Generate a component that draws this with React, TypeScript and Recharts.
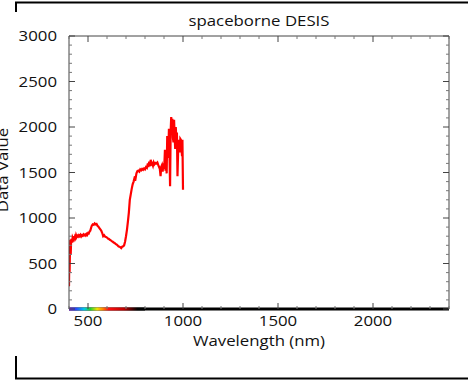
import { LineChart, Line, XAxis, YAxis, ReferenceArea } from "recharts";

// DESIS spectrum
const wavelengths = [
  400, 401, 403, 405, 407, 409, 411, 413, 416, 419, 422, 425, 428, 431, 434, 437, 440, 444, 448, 452,
  456, 460, 464, 468, 472, 476, 480, 484, 488, 492, 496, 500, 504, 508, 512, 516, 520, 525, 530, 535,
  540, 545, 550, 555, 560, 565, 570, 575, 580, 585, 590, 595, 600, 605, 610, 615, 620, 625, 630, 635,
  640, 645, 650, 655, 660, 665, 670, 675, 680, 685, 690, 695, 700, 705, 710, 715, 720, 725, 730, 735,
  740, 745, 750, 755, 760, 765, 770, 775, 780, 785, 790, 795, 800, 805, 810, 815, 818, 822, 826, 830,
  834, 838, 842, 846, 850, 855, 860, 865, 870, 874, 878, 882, 885, 889, 893, 897, 901, 905, 908, 911,
  914, 917, 920, 923, 926, 929, 932, 935, 938, 941, 944, 947, 950, 953, 956, 959, 962, 965, 968, 971,
  974, 977, 980, 983, 986, 989, 992, 995, 997, 1000,
];
const values = [
  250, 460, 400, 620, 760, 600, 740, 770, 730, 785, 770, 800, 775, 795, 780, 810, 790, 805, 795, 810,
  800, 815, 798, 812, 805, 820, 810, 818, 808, 825, 815, 835, 830, 850, 860, 890, 915, 930, 925, 940,
  930, 935, 915, 905, 890, 875, 860, 835, 800, 810, 795, 790, 785, 775, 770, 760, 755, 745, 740, 730,
  725, 715, 710, 700, 690, 685, 680, 670, 685, 690, 700, 740, 800, 870, 960, 1060, 1200, 1260, 1320, 1370,
  1400, 1440, 1430, 1490, 1515, 1520, 1510, 1535, 1525, 1540, 1530, 1545, 1535, 1560, 1550, 1600, 1560, 1620, 1570, 1640,
  1590, 1600, 1575, 1610, 1590, 1605, 1600, 1610, 1580, 1560, 1540, 1460, 1560, 1580, 1510, 1600, 1540, 1750, 1520, 1680,
  1490, 1900, 1660, 1740, 1980, 1700, 1350, 1950, 2110, 2000, 2090, 1880, 1830, 2080, 1900, 1760, 2000, 1850, 1940, 1460,
  1700, 1860, 1800, 1720, 1870, 1860, 1760, 1680, 1860, 1310,
];

const xLabels = [500, 1000, 1500, 2000];
const yLabels = [0, 500, 1000, 1500, 2000, 2500, 3000];
const xTicks = Array.from({ length: 21 }, (_, i) => 400 + i * 100);
const yTicks = Array.from({ length: 31 }, (_, i) => i * 100);

const data = wavelengths.map((wl, i) => ({ wl, value: values[i] }));

const FONT = "'Open Sans', sans-serif";
const FS = 14;
const SX = 1.2;
const INK = "#111";

function makeTick(side: "bottom" | "top" | "left" | "right") {
  return (props: any) => {
    const { x, y, payload } = props;
    const v = payload.value;
    const major = v % 500 === 0;
    const len = major ? 6 : 3;
    let x2 = x, y2 = y;
    if (side === "bottom") y2 = y - len;
    if (side === "top") y2 = y + len;
    if (side === "left") x2 = x + len;
    if (side === "right") x2 = x - len;
    let label = null;
    if (side === "bottom" && xLabels.includes(v)) {
      label = (
        <text transform={`translate(${x},${y + 17}) scale(${SX},1)`} textAnchor="middle"
          fontFamily={FONT} fontSize={FS} fill={INK}>{v}</text>
      );
    }
    if (side === "left" && yLabels.includes(v)) {
      label = (
        <text transform={`translate(${x - 12},${y + 5}) scale(${SX},1)`} textAnchor="end"
          fontFamily={FONT} fontSize={FS} fill={INK}>{v}</text>
      );
    }
    return (
      <g>
        <line x1={x} y1={y} x2={x2} y2={y2} stroke={major ? "#444" : "#777"} strokeWidth={1} />
        {label}
      </g>
    );
  };
}

export default function App() {
  return (
    <div style={{ position: "absolute", left: 0, top: 0, width: 468, height: 381, background: "#fff" }}>
      <svg width={1} height={1} style={{ position: "absolute", left: 0, top: 0 }}>
        <defs>
          <linearGradient id="rainbow" x1="0" y1="0" x2="1" y2="0">
            <stop offset="0%" stopColor="#7a1fd6" />
            <stop offset="8%" stopColor="#2a3cff" />
            <stop offset="20%" stopColor="#00c8e8" />
            <stop offset="28%" stopColor="#20d030" />
            <stop offset="37%" stopColor="#f0e000" />
            <stop offset="44%" stopColor="#ff8800" />
            <stop offset="52%" stopColor="#ff1010" />
            <stop offset="72%" stopColor="#c00000" />
            <stop offset="90%" stopColor="#000000" />
          </linearGradient>
        </defs>
      </svg>
      <LineChart width={468} height={381} data={data} margin={{ top: 0, right: 0, bottom: 0, left: 0 }}>
        <XAxis dataKey="wl" type="number" domain={[400, 2400]} ticks={xTicks} interval={0}
          height={72} tickSize={0} tickMargin={0} tickLine={false} tick={makeTick("bottom")}
          axisLine={false} allowDataOverflow />
        <XAxis xAxisId="top" orientation="top" dataKey="wl" type="number" domain={[400, 2400]} ticks={xTicks}
          interval={0} height={36} tickSize={0} tickMargin={0} tickLine={false} tick={makeTick("top")}
          axisLine={{ stroke: "#444" }} allowDataOverflow />
        <YAxis type="number" domain={[0, 3000]} ticks={yTicks} interval={0} width={69}
          tickSize={0} tickMargin={0} tickLine={false} tick={makeTick("left")}
          axisLine={{ stroke: "#444" }} allowDataOverflow />
        <YAxis yAxisId="right" orientation="right" type="number" domain={[0, 3000]} ticks={yTicks} interval={0}
          width={19} tickSize={0} tickMargin={0} tickLine={false} tick={makeTick("right")}
          axisLine={{ stroke: "#444" }} allowDataOverflow />
        <ReferenceArea x1={400} x2={2400} y1={-17} y2={17} fill="#000" fillOpacity={1}
          stroke="none" ifOverflow="visible" />
        <ReferenceArea x1={400} x2={800} y1={-17} y2={17} fill="url(#rainbow)" fillOpacity={1}
          stroke="none" ifOverflow="visible" />
        <Line dataKey="value" type="linear" stroke="#ff0000" strokeWidth={2.2} dot={false}
          isAnimationActive={false} />
      </LineChart>
      <svg width={468} height={381} style={{ position: "absolute", left: 0, top: 0, pointerEvents: "none" }}>
        <path d="M16,12 V2.5 H468" fill="none" stroke="#000" strokeWidth={2} />
        <path d="M16,356 V378.5 H468" fill="none" stroke="#000" strokeWidth={2} />
        <text transform={`translate(259,26) scale(${SX},1)`} textAnchor="middle" fontFamily={FONT}
          fontSize={FS} fill={INK}>spaceborne DESIS</text>
        <text transform={`translate(259,346) scale(${SX},1)`} textAnchor="middle" fontFamily={FONT}
          fontSize={FS} fill={INK}>Wavelength (nm)</text>
        <text transform={`translate(8,170) rotate(-90) scale(${SX},1)`} textAnchor="middle" fontFamily={FONT}
          fontSize={FS} fill={INK}>Data Value</text>
      </svg>
    </div>
  );
}
